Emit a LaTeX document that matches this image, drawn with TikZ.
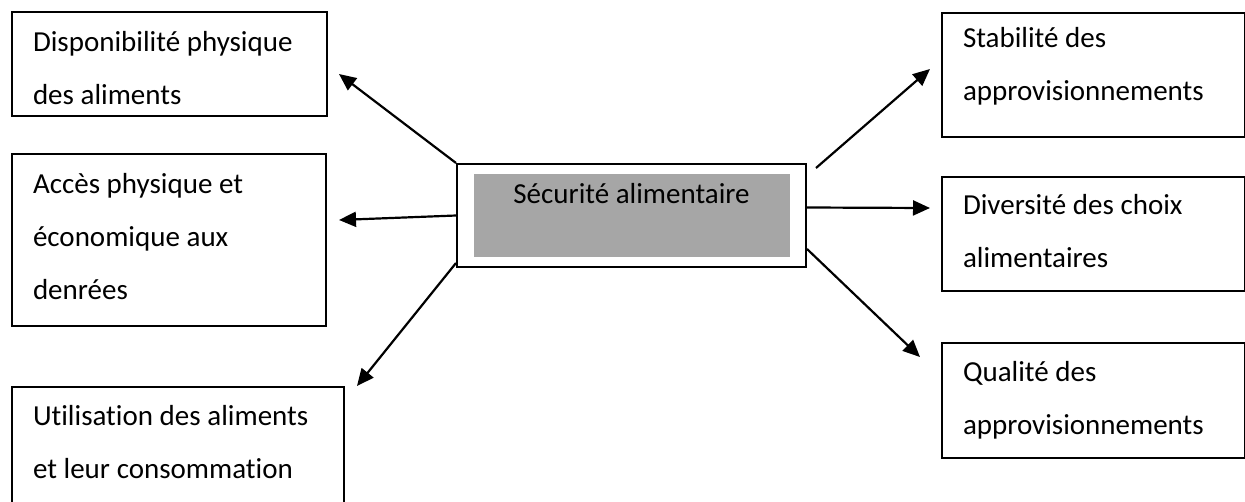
\documentclass[tikz,border=0pt]{standalone}
\usepackage{fontspec}
\setmainfont{Carlito}[Ligatures={NoCommon}]
\usetikzlibrary{arrows.meta, positioning}
\definecolor{hubgray}{HTML}{A6A6A6}
\definecolor{ink}{HTML}{000000}

\begin{document}
\begin{tikzpicture}[
  x=1pt, y=-1pt,
  >={Triangle[length=17pt, width=15pt]},
  infobox/.style n args={3}{
    draw=ink, line width=2pt, anchor=north west, align=left,
    inner xsep=21pt, inner ysep=0pt, text width=#1,
    text height=#2, text depth=#3,
    font=\fontsize{29}{53}\selectfont,
    execute at begin node={\spaceskip=0.23em\relax}
  },
  arr/.style={->, line width=2.2pt, ink},
]

% Bounding box of the page
\useasboundingbox (0,0) rectangle (1245,501);

% =============================================
% Centre: food security
% =============================================
\node[draw=ink, line width=2pt, inner sep=0pt,
  minimum width=349pt, minimum height=103pt] (hub) at (631.5,215.5) {};
\node[fill=hubgray, inner sep=0pt, minimum width=316pt,
  text height=29pt, text depth=54pt, font=\fontsize{29}{34}\selectfont]
  (hubfill) at (hub.center) {Sécurité alimentaire};

% =============================================
% Left column
% =============================================
\node[infobox={273pt}{39pt}{65pt}] (dispo) at (11,11)
  {Disponibilité physique\\des aliments};

\node[infobox={272pt}{39pt}{133pt}] (acces) at (11,153)
  {Accès physique et\\économique aux\\denrées};

\node[infobox={290pt}{38pt}{79pt}] (util) at (11,386)
  {Utilisation des aliments\\et leur consommation};

% =============================================
% Right column
% =============================================
\node[infobox={261pt}{34pt}{90pt}] (stab) at (941,12)
  {Stabilité des\\approvisionnements};

\node[infobox={261pt}{37pt}{77pt}] (div) at (941,176)
  {Diversité des choix\\alimentaires};

\node[infobox={261pt}{38pt}{77pt}] (qual) at (941,342)
  {Qualité des\\approvisionnements};

% =============================================
% Arrows out of the centre
% =============================================
\draw[arr] (hub.north west) -- ([shift={(11,10)}]dispo.east);
\draw[arr] (hub.west) -- ([shift={(12,-20)}]acces.east);
\draw[arr] ([shift={(0,-5)}]hub.south west) -- ([shift={(12,0)}]util.north east);

\draw[arr] ([shift={(9,5)}]hub.north east) -- ([shift={(-11,-6)}]stab.west);
\draw[arr] ([shift={(0,-8)}]hub.east) -- ([shift={(-11,-26)}]div.west);
\draw[arr] ([shift={(0,-19)}]hub.south east) -- ([shift={(-21,15)}]qual.north west);

\end{tikzpicture}
\end{document}
